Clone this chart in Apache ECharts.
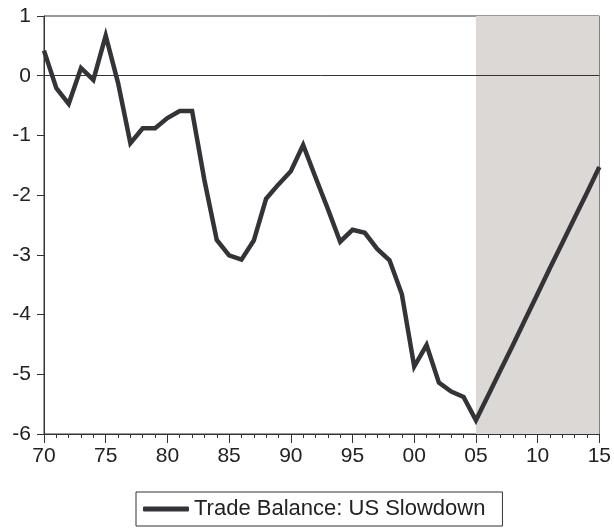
<!DOCTYPE html>
<html>
<head>
<meta charset="utf-8">
<script src="https://cdn.jsdelivr.net/npm/echarts@6/dist/echarts.min.js"></script>
<style>
html,body{margin:0;padding:0;background:#fff;}
#chart{width:614px;height:528px;}
</style>
</head>
<body>
<div id="chart"></div>
<script>
var years = [1970,1971,1972,1973,1974,1975,1976,1977,1978,1979,
             1980,1981,1982,1983,1984,1985,1986,1987,1988,1989,
             1990,1991,1992,1993,1994,1995,1996,1997,1998,1999,
             2000,2001,2002,2003,2004,2005,2006,2007,2008,2009,
             2010,2011,2012,2013,2014,2015];
var tradeBalance = [0.42,-0.21,-0.47,0.13,-0.07,0.67,-0.12,-1.13,-0.88,-0.88,
                    -0.71,-0.59,-0.59,-1.75,-2.75,-3.01,-3.08,-2.76,-2.06,-1.82,
                    -1.60,-1.16,-1.70,-2.23,-2.78,-2.58,-2.63,-2.90,-3.09,-3.66,
                    -4.87,-4.51,-5.14,-5.29,-5.38,-5.77,-5.35,-4.93,-4.51,-4.08,
                    -3.65,-3.22,-2.80,-2.38,-1.96,-1.53];
var shadeRange = [2005, 2015];
var seriesName = 'Trade Balance: US Slowdown';

var chart = echarts.init(document.getElementById('chart'), null, {renderer:'canvas'});
var data = years.map(function(y,i){return [y, tradeBalance[i]];});
var FONT = 'Liberation Sans';
chart.setOption({
  animation:false,
  backgroundColor:'#ffffff',
  grid:{left:44,right:14,top:16,bottom:94,show:true,borderColor:'#333333',borderWidth:1,backgroundColor:'transparent'},
  xAxis:{
    type:'value',min:1970,max:2015,interval:5,
    axisLine:{show:true,onZero:false,lineStyle:{color:'#333333',width:1}},
    axisTick:{show:true,length:9,inside:false,lineStyle:{color:'#333333'}},
    minorTick:{show:true,splitNumber:5,length:4,lineStyle:{color:'#333333'}},
    splitLine:{show:false},
    axisLabel:{color:'#222222',fontFamily:FONT,fontSize:21,margin:12,
      formatter:function(v){var s=String(((v%100)+100)%100);return s.length<2?'0'+s:s;}}
  },
  yAxis:{
    type:'value',min:-6,max:1,interval:1,
    axisLine:{show:true,lineStyle:{color:'#333333',width:1}},
    axisTick:{show:true,length:7,lineStyle:{color:'#333333'}},
    splitLine:{show:false},
    axisLabel:{color:'#222222',fontFamily:FONT,fontSize:21,margin:13}
  },
  legend:{
    show:true,left:136,top:492,
    padding:[6,17,6,7],
    borderColor:'#333333',borderWidth:1,
    itemWidth:46,itemHeight:5,itemGap:8,
    textStyle:{color:'#222222',fontFamily:FONT,fontSize:22},
    data:[{name:seriesName,icon:'roundRect',itemStyle:{color:'#333338'}}]
  },
  series:[
    {
      name:'shade',type:'line',data:[],z:1,silent:true,
      markArea:{silent:true,itemStyle:{color:'#DCD8D5'},
        data:[[{xAxis:shadeRange[0]},{xAxis:shadeRange[1]}]]}
    },
    {
      name:'zero',type:'line',data:[],z:2,silent:true,
      markLine:{silent:true,symbol:'none',label:{show:false},
        lineStyle:{color:'#333333',width:1,type:'solid'},
        data:[{yAxis:0}]}
    },
    {
      name:seriesName,type:'line',data:data,z:5,
      showSymbol:false,symbol:'none',
      lineStyle:{color:'#333338',width:4.5,join:'miter'},
      itemStyle:{color:'#333338'}
    }
  ]
});
</script>
</body>
</html>
